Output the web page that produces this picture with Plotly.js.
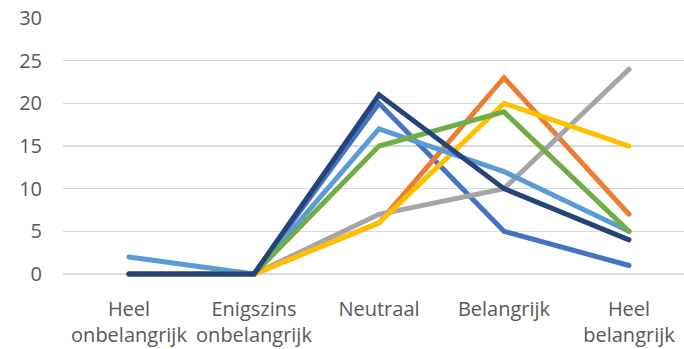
<!DOCTYPE html>
<html>
<head>
<meta charset="utf-8">
<script src="https://cdn.plot.ly/plotly-3.0.1.min.js"></script>
<style>html,body{margin:0;padding:0;background:#fff;}#chart{width:684px;height:349px;}
.scatterlayer path.js-line{stroke-linecap:round;}</style>
</head>
<body>
<div id="chart"></div>
<script>
const categories = ["Heel<br>onbelangrijk", "Enigszins<br>onbelangrijk", "Neutraal", "Belangrijk", "Heel<br>belangrijk"];
const series1 = [0, 0, 20, 5, 1];
const series2 = [0, 0, 6, 23, 7];
const series3 = [0, 0, 7, 10, 24];
const series4 = [0, 0, 6, 20, 15];
const series5 = [2, 0, 17, 12, 5];
const series6 = [0, 0, 15, 19, 5];
const series7 = [0, 0, 21, 10, 4];
const yTicks = [0, 5, 10, 15, 20, 25, 30];

const allSeries = [series1, series2, series3, series4, series5, series6, series7];
const colors = ["#4472C4", "#ED7D31", "#A5A5A5", "#FFC000", "#5B9BD5", "#70AD47", "#264478"];
const idx = categories.map((_, i) => i);

const traces = allSeries.map((s, k) => ({
  x: idx, y: s, type: "scatter", mode: "lines",
  line: {color: colors[k], width: 5, shape: "linear"},
  hoverinfo: "skip", showlegend: false
}));

const font = {family: "Open Sans, sans-serif", size: 20, color: "#595959"};
const layout = {
  width: 684, height: 349,
  margin: {l: 63, r: 0, t: 18, b: 72, pad: 0},
  paper_bgcolor: "#fff", plot_bgcolor: "#fff",
  showlegend: false,
  font: font,
  xaxis: {
    range: [-0.528, 4.44], tickmode: "array", tickvals: idx, ticktext: categories,
    showgrid: false, zeroline: false, showline: false, ticks: "",
    tickfont: font, ticklabelstandoff: 18, fixedrange: true
  },
  yaxis: {
    range: [-0.35, 30], tickmode: "array", tickvals: yTicks, ticktext: yTicks.map(String),
    showgrid: true, gridcolor: "#D9D9D9", gridwidth: 1.5,
    zeroline: true, zerolinecolor: "#D9D9D9", zerolinewidth: 1.5,
    showline: false, ticks: "", tickfont: font, ticklabelstandoff: 20, fixedrange: true
  }
};
Plotly.newPlot("chart", traces, layout, {staticPlot: true, displayModeBar: false});
</script>
</body>
</html>
